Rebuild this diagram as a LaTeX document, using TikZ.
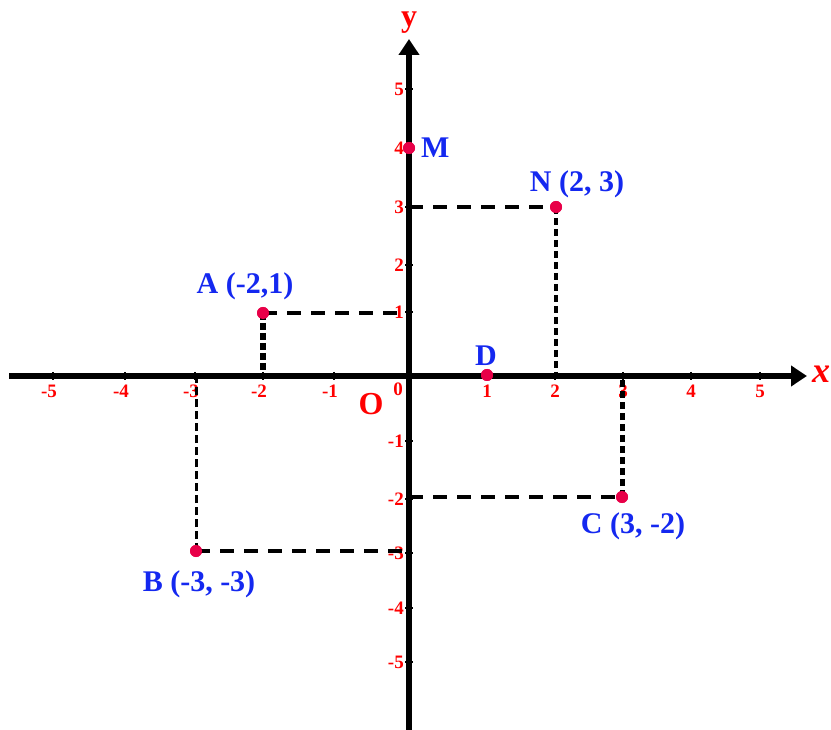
\documentclass[tikz,border=0pt]{standalone}
\usepackage{fontspec}
\setmainfont{Liberation Serif}
\usetikzlibrary{arrows.meta}
\definecolor{dotred}{RGB}{232,0,72}
\definecolor{lblblue}{RGB}{20,40,240}
\definecolor{ticklbl}{RGB}{255,0,0}
\tikzset{
  axisline/.style={line width=6pt,-{Triangle[length=16pt,width=20pt]}},
  tickmark/.style={line width=1.5pt},
  xtl/.style={text=ticklbl,font=\fontsize{19}{19}\selectfont\bfseries,inner sep=0pt},
  ytl/.style={text=ticklbl,font=\fontsize{19}{19}\selectfont\bfseries,inner sep=0pt,anchor=east},
  ptdot/.style={circle,fill=dotred,inner sep=0pt,minimum size=12pt},
  ptlbl/.style={text=lblblue,font=\fontsize{30}{30}\selectfont\bfseries,inner sep=0pt},
  hdash/.style={line width=4pt,dash pattern=on 14pt off 10pt},
  vdash/.style={line width=#1,dash pattern=on 7pt off 4pt},
}
\begin{document}
\begin{tikzpicture}[x=1pt,y=-1pt]
\useasboundingbox (0,0) rectangle (831,730);
% axes
\coordinate (xs) at (9,376);
\coordinate (xe) at (807,376);
\coordinate (ys) at (409,730);
\coordinate (ye) at (409,39);
\draw[axisline] (xs) -- (xe);
\draw[axisline] (ys) -- (ye);
\node[text=ticklbl,font=\fontsize{36}{36}\selectfont\bfseries\itshape,inner sep=0pt] (xl) at (821,374) {x};
\node[text=ticklbl,font=\fontsize{32}{32}\selectfont\bfseries,inner sep=0pt] (yl) at (409,23) {y};
\node[text=ticklbl,font=\fontsize{32}{32}\selectfont\bfseries,inner sep=0pt] (O) at (371,404) {O};
\node[xtl] (t0) at (398,389) {0};
% x ticks
\foreach \px/\lab/\dx in {53/-5/-4,125/-4/-4,195/-3/-4,263/-2/-4,334/-1/-4,487/1/0,555/2/0,623/3/0,691/4/0,760/5/0}{
  \draw[tickmark] (\px,372) -- (\px,380);
  \node[xtl] (xt\lab) at (\px+\dx,391) {\lab};
}
% y ticks
\foreach \py/\lab in {89/5,148/4,207/3,265/2,312/1,441/-1,499/-2,553/-3,608/-4,662/-5}{
  \draw[tickmark] (405,\py) -- (413,\py);
  \node[ytl] (yt\lab) at (404,\py) {\lab};
}
% points
\node[ptdot] (M) at (409,148) {};
\node[ptdot] (N) at (556,207) {};
\node[ptdot] (A) at (263,313) {};
\node[ptdot] (D) at (487,375) {};
\node[ptdot] (C) at (622,497) {};
\node[ptdot] (B) at (196,551) {};
% feet on the axes
\coordinate (Ny) at (409,207);
\coordinate (Nx) at (556,376);
\coordinate (Ay) at (409,313);
\coordinate (Ax) at (263,376);
\coordinate (Cy) at (409,497);
\coordinate (Cx) at (622,376);
\coordinate (By) at (409,551);
\coordinate (Bx) at (196,376);
% dashed guides
\draw[hdash] (Ny) -- (N.center);
\draw[vdash=4pt] (N.center) -- (Nx);
\draw[hdash] (A.center) -- (Ay);
\draw[line width=6pt,dash pattern=on 7pt off 3pt] (A.center) -- (Ax);
\draw[hdash] (Cy) -- (C.center);
\draw[vdash=5pt] (C.center) -- (Cx);
\draw[hdash] (B.center) -- (By);
\draw[line width=3pt,dash pattern=on 8pt off 4pt] (B.center) -- (Bx);
% redraw dots on top
\foreach \n in {M,N,A,D,C,B}{\fill[dotred] (\n) circle (6pt);}
% labels
\node[ptlbl,anchor=west] (Ml) at (421,148) {M};
\node[ptlbl] (Nl) at (577,184) {N (2, 3)};
\node[ptlbl] (Al) at (245,286) {A (-2,1)};
\node[ptlbl] (Dl) at (486,356) {D};
\node[ptlbl] (Cl) at (633,526) {C (3, -2)};
\node[ptlbl] (Bl) at (199,584) {B (-3, -3)};
\end{tikzpicture}
\end{document}
